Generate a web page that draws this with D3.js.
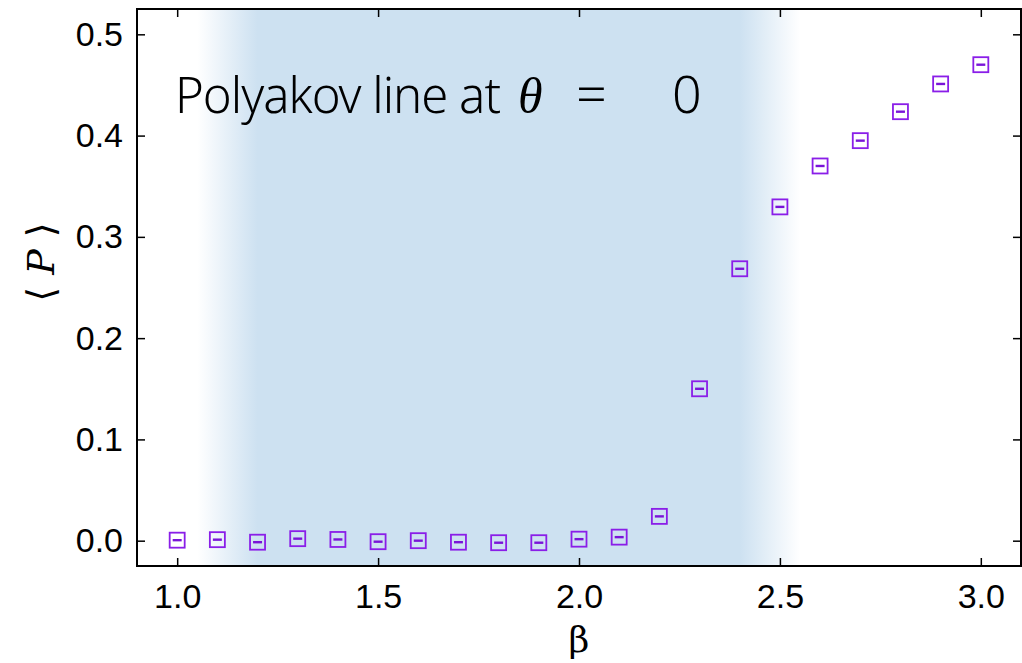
<!DOCTYPE html>
<meta charset="utf-8">
<script src="https://d3js.org/d3.v7.min.js"></script>
<style>
  body { margin: 0; background: #fff; }
</style>
<div id="my_dataviz"></div>
<script>

// beta values and measured Polyakov loop
var betas = [1.0, 1.1, 1.2, 1.3, 1.4, 1.5, 1.6, 1.7, 1.8, 1.9, 2.0,
             2.1, 2.2, 2.3, 2.4, 2.5, 2.6, 2.7, 2.8, 2.9, 3.0];
var polyakov = [0.0005, 0.001, -0.0015, 0.002, 0.0012, -0.001, 0.0, -0.0015, -0.002, -0.002, 0.0015,
                0.0035, 0.024, 0.150, 0.2685, 0.3296, 0.370, 0.395, 0.4236, 0.451, 0.470];

// tick labels
var xTicks = [1.0, 1.5, 2.0, 2.5, 3.0];
var yTicks = [0.0, 0.1, 0.2, 0.3, 0.4, 0.5];

// shaded region [start, full from, full to, end]
var band = [1.05, 1.2, 2.4, 2.55];

var W = 1022, H = 663;
var margin = {top: 9, right: 1, bottom: 97, left: 137},
    width = W - margin.left - margin.right,
    height = H - margin.top - margin.bottom;

var svg = d3.select("#my_dataviz")
  .append("svg")
    .attr("width", W)
    .attr("height", H);

var g = svg.append("g")
    .attr("transform", "translate(" + margin.left + "," + margin.top + ")");

var x = d3.scaleLinear().domain([0.9, 3.1]).range([0, width]);
var y = d3.scaleLinear().domain([-0.025, 0.525]).range([height, 0]);

// gradient band
var defs = svg.append("defs");
var grad = defs.append("linearGradient")
    .attr("id", "bandGrad")
    .attr("gradientUnits", "userSpaceOnUse")
    .attr("x1", x(band[0])).attr("x2", x(band[3]))
    .attr("y1", 0).attr("y2", 0);
var span = band[3] - band[0];
grad.append("stop").attr("offset", 0).attr("stop-color", "#cde1f1").attr("stop-opacity", 0);
grad.append("stop").attr("offset", (band[1] - band[0]) / span).attr("stop-color", "#cde1f1").attr("stop-opacity", 1);
grad.append("stop").attr("offset", (band[2] - band[0]) / span).attr("stop-color", "#cde1f1").attr("stop-opacity", 1);
grad.append("stop").attr("offset", 1).attr("stop-color", "#cde1f1").attr("stop-opacity", 0);

g.append("rect")
  .attr("x", x(band[0]))
  .attr("y", 0)
  .attr("width", x(band[3]) - x(band[0]))
  .attr("height", height)
  .attr("fill", "url(#bandGrad)");

// title (abs x positions converted to plot coords)
var title = g.append("text")
  .attr("y", 113 - margin.top)
  .attr("font-family", "Noto Sans, sans-serif")
  .attr("font-size", 49)
  .attr("font-weight", 300)
  .attr("fill", "#000");
title.append("tspan")
  .attr("x", 175 - margin.left)
  .attr("letter-spacing", -1)
  .text("Polyakov line at");
title.append("tspan")
  .attr("x", 518 - margin.left)
  .attr("font-family", "Liberation Serif, serif")
  .attr("font-style", "italic")
  .attr("font-size", 50)
  .text("θ");
title.append("tspan")
  .attr("x", 576 - margin.left)
  .attr("font-size", 54)
  .text("=");
title.append("tspan")
  .attr("x", 672 - margin.left)
  .attr("font-size", 52)
  .text("0");

// axes with inward ticks
var tickLen = 8;
var fmt = d3.format(".1f");

g.append("g")
  .attr("transform", "translate(0," + height + ")")
  .call(d3.axisBottom(x).tickValues(xTicks).tickSize(-tickLen).tickPadding(18).tickFormat(fmt))
  .call(function(a) { a.select(".domain").remove(); });

g.append("g")
  .call(d3.axisTop(x).tickValues(xTicks).tickSize(-tickLen).tickFormat(""))
  .call(function(a) { a.select(".domain").remove(); });

g.append("g")
  .call(d3.axisLeft(y).tickValues(yTicks).tickSize(-tickLen).tickPadding(14).tickFormat(fmt))
  .call(function(a) { a.select(".domain").remove(); });

g.append("g")
  .attr("transform", "translate(" + width + ",0)")
  .call(d3.axisRight(y).tickValues(yTicks).tickSize(-tickLen).tickFormat(""))
  .call(function(a) { a.select(".domain").remove(); });

g.selectAll(".tick line").attr("stroke", "#000").attr("stroke-width", 1.5);
g.selectAll(".tick text")
  .attr("font-family", "Liberation Sans, Arial, sans-serif")
  .attr("font-size", 34)
  .attr("fill", "#000");

// frame
g.append("rect")
  .attr("x", 0).attr("y", 0)
  .attr("width", width).attr("height", height)
  .attr("fill", "none")
  .attr("stroke", "#000")
  .attr("stroke-width", 2);

// data points: open squares with small error bars
var pts = betas.map(function(b, i) { return {b: b, p: polyakov[i]}; });
var half = 7.5;

g.selectAll(".pt")
  .data(pts)
  .enter()
  .append("rect")
    .attr("class", "pt")
    .attr("x", function(d) { return x(d.b) - half; })
    .attr("y", function(d) { return y(d.p) - half; })
    .attr("width", half * 2)
    .attr("height", half * 2)
    .attr("fill", "none")
    .attr("stroke", "#8a1ee8")
    .attr("stroke-width", 1.8);

g.selectAll(".err")
  .data(pts)
  .enter()
  .append("line")
    .attr("class", "err")
    .attr("x1", function(d) { return x(d.b) - 4.5; })
    .attr("x2", function(d) { return x(d.b) + 4.5; })
    .attr("y1", function(d) { return y(d.p); })
    .attr("y2", function(d) { return y(d.p); })
    .attr("stroke", "#7a14d8")
    .attr("stroke-width", 2.4);

// axis labels
svg.append("text")
  .attr("x", margin.left + x(2.0))
  .attr("y", 652)
  .attr("text-anchor", "middle")
  .attr("font-family", "DejaVu Serif, serif")
  .attr("font-size", 36)
  .attr("fill", "#000")
  .text("β");

svg.append("text")
  .attr("transform", "translate(54,262) rotate(-90)")
  .attr("text-anchor", "middle")
  .attr("font-family", "DejaVu Serif, serif")
  .attr("font-size", 38)
  .attr("fill", "#000")
  .html("&#10216;<tspan font-style='italic'> P </tspan>&#10217;");

</script>
